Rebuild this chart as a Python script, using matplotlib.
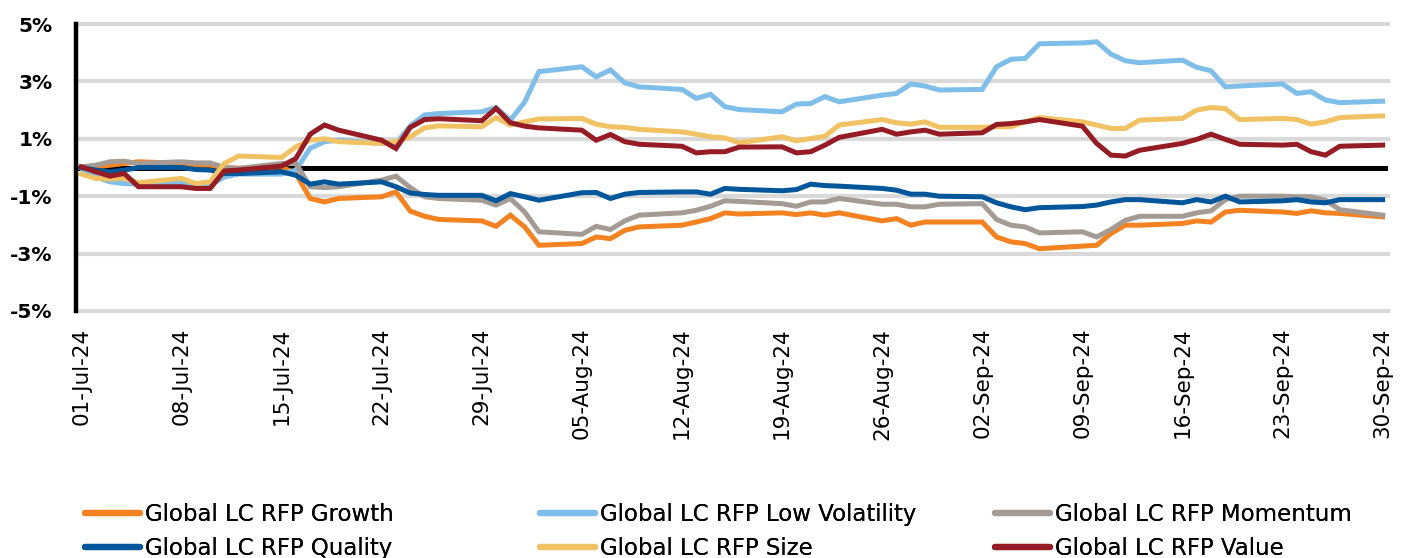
import pandas as pd
import matplotlib
matplotlib.use("Agg")
from matplotlib import pyplot as plt
import matplotlib.dates as mdates
from matplotlib.ticker import FixedLocator, FuncFormatter

# business days, 01-Jul-24 .. 30-Sep-24
dates = pd.bdate_range("2024-07-01", "2024-09-30")

growth = [
    0.02, 0.02, 0.08, 0.14, 0.20, 0.14, 0.08, 0.08, 0.00, -0.03,
    0.02, -0.21, -1.08, -1.20, -1.08, -1.02, -0.85, -1.52, -1.70, -1.81,
    -1.86, -2.05, -1.66, -2.07, -2.71, -2.65, -2.42, -2.48, -2.19, -2.07,
    -2.01, -1.90, -1.78, -1.58, -1.62, -1.58, -1.64, -1.58, -1.66, -1.58,
    -1.86, -1.78, -2.01, -1.90, -1.90, -1.90, -2.42, -2.59, -2.65, -2.83,
    -2.74, -2.71, -2.30, -2.01, -2.01, -1.95, -1.86, -1.90, -1.55, -1.49,
    -1.55, -1.60, -1.51, -1.58, -1.60, -1.72,
]
low_vol = [
    -0.03, -0.33, -0.50, -0.56, -0.58, -0.53, -0.62, -0.62, -0.33, -0.23,
    -0.23, -0.09, 0.67, 0.90, 0.95, 0.84, 0.84, 1.45, 1.83, 1.88,
    1.94, 2.09, 1.65, 2.28, 3.34, 3.51, 3.16, 3.40, 2.95, 2.81,
    2.72, 2.41, 2.55, 2.12, 2.02, 1.94, 2.21, 2.23, 2.47, 2.29,
    2.52, 2.58, 2.91, 2.84, 2.70, 2.72, 3.51, 3.77, 3.80, 4.31,
    4.34, 4.38, 3.95, 3.72, 3.65, 3.74, 3.49, 3.37, 2.81, 2.84,
    2.91, 2.58, 2.64, 2.35, 2.26, 2.31,
]
momentum = [
    0.02, 0.08, 0.20, 0.22, 0.14, 0.20, 0.16, 0.16, 0.00, -0.03,
    0.14, 0.14, -0.67, -0.70, -0.67, -0.44, -0.30, -0.70, -1.02, -1.08,
    -1.14, -1.31, -1.08, -1.55, -2.24, -2.33, -2.05, -2.16, -1.86, -1.66,
    -1.58, -1.49, -1.35, -1.16, -1.18, -1.26, -1.35, -1.20, -1.20, -1.08,
    -1.28, -1.28, -1.37, -1.37, -1.28, -1.26, -1.81, -2.01, -2.07, -2.28,
    -2.24, -2.42, -2.16, -1.84, -1.70, -1.70, -1.58, -1.51, -1.12, -1.00,
    -1.00, -1.02, -1.02, -1.14, -1.47, -1.66,
]
quality = [
    0.00, -0.09, -0.15, -0.09, 0.00, 0.00, -0.07, -0.09, -0.21, -0.21,
    -0.15, -0.27, -0.58, -0.50, -0.58, -0.50, -0.67, -0.89, -0.94, -0.97,
    -0.97, -1.16, -0.91, -1.02, -1.14, -0.88, -0.87, -1.08, -0.93, -0.87,
    -0.85, -0.85, -0.93, -0.73, -0.76, -0.81, -0.77, -0.58, -0.63, -0.65,
    -0.73, -0.79, -0.93, -0.93, -1.00, -1.02, -1.23, -1.37, -1.47, -1.40,
    -1.36, -1.31, -1.20, -1.12, -1.12, -1.23, -1.12, -1.20, -1.00, -1.20,
    -1.16, -1.12, -1.20, -1.23, -1.12, -1.12,
]
size = [
    -0.23, -0.38, -0.40, -0.38, -0.53, -0.38, -0.56, -0.50, 0.14, 0.40,
    0.35, 0.72, 0.95, 1.00, 0.90, 0.84, 0.90, 1.07, 1.38, 1.45,
    1.42, 1.74, 1.48, 1.59, 1.69, 1.71, 1.51, 1.42, 1.40, 1.33,
    1.24, 1.16, 1.07, 1.03, 0.86, 1.07, 0.93, 1.01, 1.09, 1.48,
    1.67, 1.56, 1.51, 1.59, 1.40, 1.40, 1.42, 1.42, 1.59, 1.74,
    1.59, 1.48, 1.36, 1.36, 1.65, 1.71, 2.00, 2.09, 2.05, 1.67,
    1.71, 1.67, 1.51, 1.59, 1.74, 1.80,
]
value = [
    0.02, -0.15, -0.30, -0.21, -0.67, -0.67, -0.73, -0.73, -0.12, -0.09,
    0.05, 0.31, 1.16, 1.48, 1.30, 0.95, 0.66, 1.40, 1.67, 1.70,
    1.63, 2.06, 1.56, 1.44, 1.38, 1.30, 0.95, 1.15, 0.90, 0.81,
    0.74, 0.51, 0.55, 0.55, 0.71, 0.72, 0.51, 0.55, 0.78, 1.05,
    1.33, 1.16, 1.24, 1.30, 1.16, 1.21, 1.50, 1.53, 1.59, 1.67,
    1.44, 0.84, 0.43, 0.40, 0.60, 0.84, 0.98, 1.16, 0.98, 0.81,
    0.78, 0.81, 0.55, 0.43, 0.74, 0.78,
]

series = [
    ("Global LC RFP Growth", growth, "#F58220"),
    ("Global LC RFP Low Volatility", low_vol, "#7FBEE9"),
    ("Global LC RFP Momentum", momentum, "#A39B94"),
    ("Global LC RFP Quality", quality, "#00569A"),
    ("Global LC RFP Size", size, "#F1C263"),
    ("Global LC RFP Value", value, "#951C24"),
]

y_ticks = [-5, -3, -1, 1, 3, 5]
x_ticks = pd.date_range("2024-07-01", "2024-09-30", freq="7D")

plt.rcParams["font.family"] = ["DejaVu Sans"]

fig = plt.figure(figsize=(14.04, 5.58), dpi=100)
ax = fig.add_axes([76 / 1404, 1 - 311 / 558, (1388 - 76) / 1404, (311 - 24) / 558])

lines = {}
for name, vals, color in series:
    ln, = ax.plot(dates, vals, color=color, lw=3.6, solid_joinstyle="miter",
                  label=name, zorder=3)
    lines[name] = ln

# zero line (category axis crosses at 0)
ax.axhline(0, color="black", lw=3.6, zorder=2)

ax.set_ylim(-5, 5)
ax.set_xlim(dates[0] - pd.Timedelta(hours=9), dates[-1] + pd.Timedelta(hours=9))

ax.yaxis.set_major_locator(FixedLocator(y_ticks))
ax.yaxis.set_major_formatter(FuncFormatter(lambda v, p: f"{v:.0f}%"))
ax.set_xticks(x_ticks)
ax.xaxis.set_major_formatter(mdates.DateFormatter("%d-%b-%y"))
plt.setp(ax.get_xticklabels(), rotation=90, ha="center", va="top")

ax.tick_params(axis="y", length=0, pad=17, labelsize=14.5)
ax.tick_params(axis="x", length=0, pad=12, labelsize=15.5)
for lbl in ax.get_yticklabels():
    lbl.set_fontweight("bold")

ax.grid(axis="y", color="#D9D9D9", lw=3)
for gl in ax.get_ygridlines():
    gl.set_clip_on(False)
ax.set_axisbelow(True)

for side in ["top", "right", "bottom"]:
    ax.spines[side].set_visible(False)
ax.spines["left"].set_linewidth(3.2)
ax.spines["left"].set_color("black")
ax.spines["left"].set_zorder(4)

# legend: three equal columns like the original
columns = [
    (85, ["Global LC RFP Growth", "Global LC RFP Quality"]),
    (540, ["Global LC RFP Low Volatility", "Global LC RFP Size"]),
    (995, ["Global LC RFP Momentum", "Global LC RFP Value"]),
]
for x0, names in columns:
    leg = fig.legend([lines[n] for n in names], names, loc="upper left",
                     bbox_to_anchor=(x0 / 1404, 1 - 503 / 558), frameon=False,
                     fontsize=16.5, handlelength=2.4, handletextpad=0.22,
                     labelspacing=0.5, borderpad=0, borderaxespad=0)
    for h in leg.legend_handles:
        h.set_linewidth(4.5)
        h.set_solid_capstyle("round")
    fig.add_artist(leg)

fig.savefig("out.png", dpi=100)
